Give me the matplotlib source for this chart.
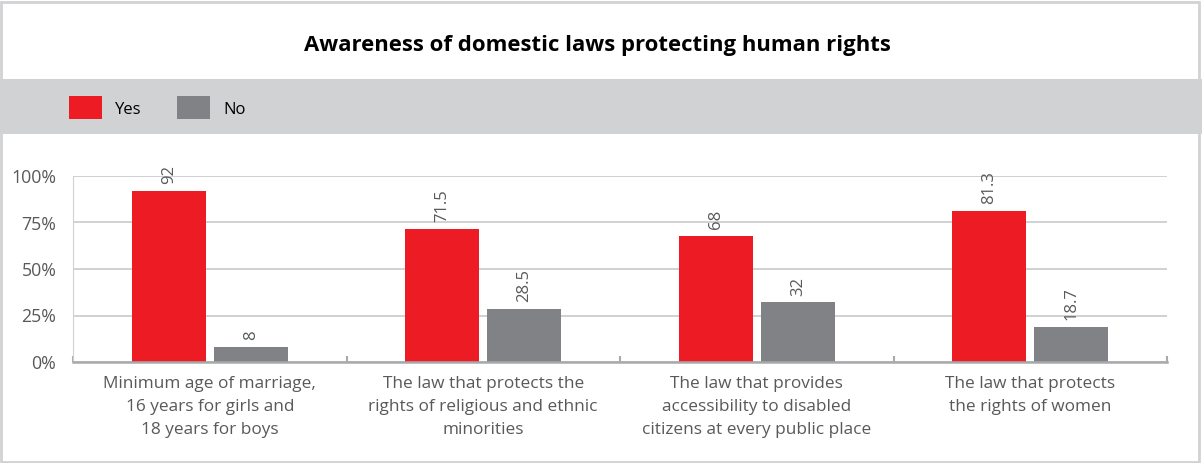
import matplotlib.pyplot as plt
from matplotlib.patches import Rectangle
import numpy as np

plt.rcParams['font.family'] = ['Open Sans', 'DejaVu Sans']

categories = ['Minimum age of marriage,\n16 years for girls and\n18 years for boys',
              'The law that protects the\nrights of religious and ethnic\nminorities',
              'The law that provides\naccessibility to disabled\ncitizens at every public place',
              'The law that protects\nthe rights of women']
yes = [92, 71.5, 68, 81.3]
no = [8, 28.5, 32, 18.7]
yes_labels = ['92', '71.5', '68', '81.3']
no_labels = ['8', '28.5', '32', '18.7']
yticks = [0, 25, 50, 75, 100]
ytick_labels = ['0%', '25%', '50%', '75%', '100%']

red = '#ed1c24'
grey = '#808285'
text_grey = '#58595b'
band = '#d1d2d4'

fig = plt.figure(figsize=(12.02, 4.63), dpi=100)

# header band behind the legend + thin outer frame
fig.patches.append(Rectangle((0, 1 - 134 / 463), 1, 55 / 463, transform=fig.transFigure,
                             facecolor=band, edgecolor='none', zorder=0))
fig.patches.append(Rectangle((0.5 / 1202, 1.5 / 463), 1 - 3.5 / 1202, 1 - 3.5 / 463,
                             transform=fig.transFigure, facecolor='none',
                             edgecolor=band, linewidth=2, zorder=0))

fig.text(597 / 1202, 1 - 46 / 463, 'Awareness of domestic laws protecting human rights',
         ha='center', va='center', fontsize=15.9, fontweight='bold', color='black')

# legend
fig.patches.append(Rectangle((69 / 1202, 1 - 119 / 463), 33 / 1202, 23 / 463,
                             transform=fig.transFigure, facecolor=red, edgecolor='none'))
fig.text(115 / 1202, 1 - 110 / 463, 'Yes', ha='left', va='center', fontsize=12, color='black')
fig.patches.append(Rectangle((177 / 1202, 1 - 119 / 463), 33 / 1202, 23 / 463,
                             transform=fig.transFigure, facecolor=grey, edgecolor='none'))
fig.text(223 / 1202, 1 - 110 / 463, 'No', ha='left', va='center', fontsize=12, color='black')

ax = fig.add_axes([73 / 1202, 1 - 362 / 463, (1167 - 73) / 1202, 186 / 463])
x = np.arange(len(categories))
w = 0.27
off = 0.15
b1 = ax.bar(x - off, yes, w, color=red, zorder=3)
b2 = ax.bar(x + off, no, w, color=grey, zorder=3)

for bars, labels in ((b1, yes_labels), (b2, no_labels)):
    for rect, lab in zip(bars, labels):
        ax.annotate(lab, (rect.get_x() + rect.get_width() / 2, rect.get_height()),
                    xytext=(0, 5), textcoords='offset points', ha='center', va='bottom',
                    rotation=90, fontsize=12, color=text_grey, annotation_clip=False)

ax.set_xlim(-0.5, len(categories) - 0.5)
ax.set_ylim(0, 100)
ax.set_yticks(yticks)
ax.set_yticklabels(ytick_labels)
ax.yaxis.grid(True, color='#c8c9cb', linewidth=1.2, zorder=0)
ax.set_axisbelow(True)

ax.set_xticks(x)
ax.set_xticklabels(categories, fontsize=12.4, color=text_grey, linespacing=1.6)
ax.set_xticks(np.arange(len(categories) + 1) - 0.5, minor=True)
ax.tick_params(axis='x', which='major', length=0, pad=10)
ax.tick_params(axis='x', which='minor', length=4, direction='in', color='#a7a9ac', width=1.5)
ax.tick_params(axis='y', length=0, labelsize=12.8, labelcolor=text_grey, pad=12)

for s in ('top', 'right'):
    ax.spines[s].set_visible(False)
ax.spines['left'].set_color('#d1d2d4')
ax.spines['bottom'].set_color('#a7a9ac')
ax.spines['bottom'].set_linewidth(1.8)
ax.spines['bottom'].set_zorder(4)

fig.savefig('out.png', dpi=100)
